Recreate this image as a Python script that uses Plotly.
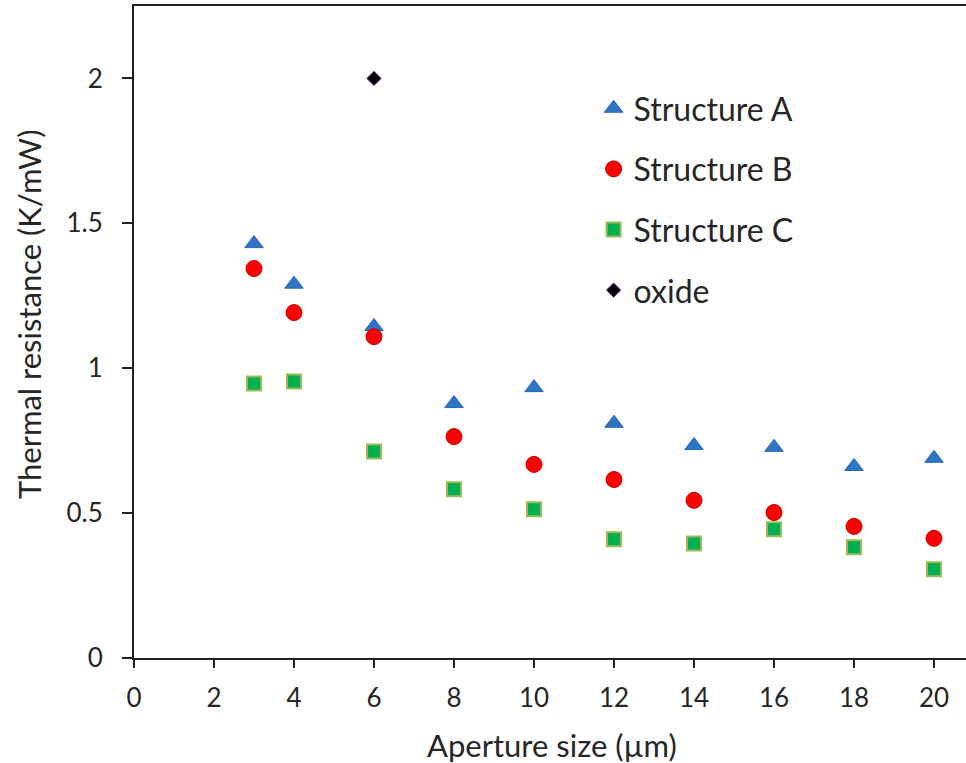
import plotly.graph_objects as go

aperture = [3, 4, 6, 8, 10, 12, 14, 16, 18, 20]
structure_a = [1.43, 1.29, 1.144, 0.878, 0.933, 0.81, 0.733, 0.727, 0.661, 0.689]
structure_b = [1.344, 1.192, 1.109, 0.764, 0.668, 0.616, 0.544, 0.502, 0.454, 0.413]
structure_c = [0.947, 0.954, 0.713, 0.582, 0.513, 0.41, 0.395, 0.444, 0.382, 0.306]
oxide_x = [6]
oxide_y = [2.0]

x_ticks = [0, 2, 4, 6, 8, 10, 12, 14, 16, 18, 20]
y_ticks = [0, 0.5, 1, 1.5, 2]
y_tick_text = ["0", "0.5", "1", "1.5", "2"]

FONT = "Lato, Open Sans, sans-serif"
TXT = "#262626"

fig = go.Figure()
fig.add_trace(go.Scatter(x=aperture, y=structure_a, mode="markers", name="Structure A",
                         legendgroup="a",
                         marker=dict(symbol="triangle-up", size=16, color="#2E75C6",
                                     line=dict(color="#2A64A8", width=1))))
fig.add_trace(go.Scatter(x=aperture, y=structure_b, mode="markers", name="Structure B",
                         legendgroup="b",
                         marker=dict(symbol="circle", size=16, color="#FF0000",
                                     line=dict(color="#C00000", width=1))))
fig.add_trace(go.Scatter(x=aperture, y=structure_c, mode="markers", name="Structure C",
                         legendgroup="c",
                         marker=dict(symbol="square", size=14, color="#00B050",
                                     line=dict(color="#9BBB59", width=2))))
fig.add_trace(go.Scatter(x=oxide_x, y=oxide_y, mode="markers", name="oxide",
                         legendgroup="d",
                         marker=dict(symbol="diamond", size=11, color="#000000",
                                     line=dict(color="#7030A0", width=1))))

fig.update_layout(
    width=966, height=763,
    margin=dict(l=134, r=0, t=6, b=105),
    paper_bgcolor="white", plot_bgcolor="white",
    font=dict(family=FONT, size=26, color=TXT),
    legend=dict(x=0.5524, y=0.885, xanchor="left", yanchor="top",
                font=dict(family=FONT, size=32, color=TXT),
                tracegroupgap=16, bgcolor="rgba(0,0,0,0)", itemwidth=30),
    xaxis=dict(range=[0, 20.8], tickvals=x_ticks, ticks="outside", ticklen=8, tickwidth=2,
               tickcolor="#222", showline=True, linecolor="#222", linewidth=2, mirror=True,
               showgrid=False, zeroline=False, ticklabelstandoff=8,
               tickfont=dict(size=26, color=TXT)),
    yaxis=dict(range=[0, 2.25], tickvals=y_ticks, ticktext=y_tick_text, ticks="outside",
               ticklen=10, tickwidth=2, tickcolor="#222", showline=True, linecolor="#222",
               linewidth=2, showgrid=False, zeroline=False, ticklabelstandoff=14,
               tickfont=dict(size=26, color=TXT)),
    annotations=[
        dict(text="Aperture size (µm)", xref="paper", yref="paper", x=0.502, y=-0.133,
             xanchor="center", yanchor="middle", showarrow=False,
             font=dict(family=FONT, size=31, color=TXT)),
        dict(text="Thermal resistance (K/mW)", xref="paper", yref="paper", x=-0.127, y=0.528,
             xanchor="center", yanchor="middle", showarrow=False, textangle=-90,
             font=dict(family=FONT, size=31, color=TXT)),
    ],
)

fig.write_html("out.html")
